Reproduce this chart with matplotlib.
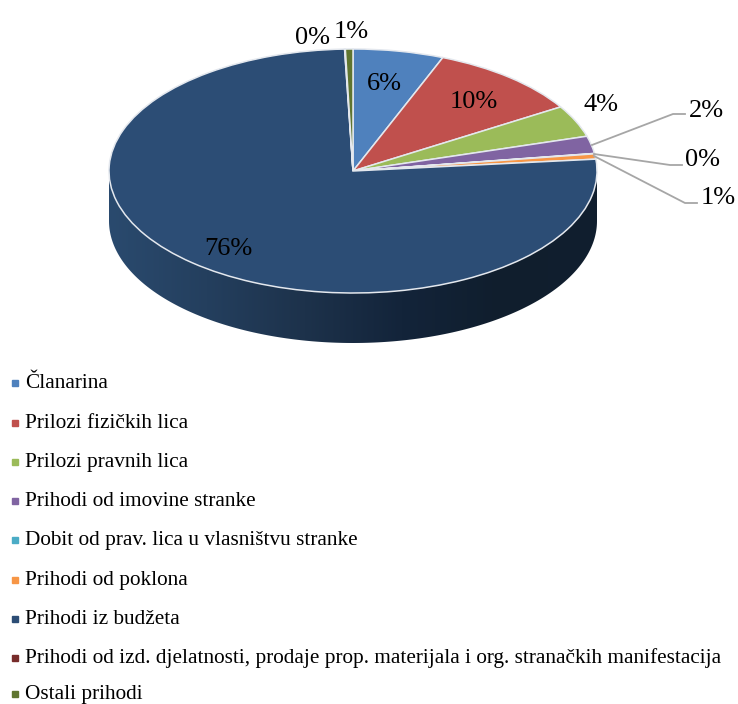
import numpy as np
import matplotlib
matplotlib.use("Agg")
import matplotlib.pyplot as plt
from matplotlib.colors import LinearSegmentedColormap
from matplotlib.patches import Polygon
from matplotlib.transforms import Affine2D

plt.rcParams["font.family"] = ["Liberation Serif", "DejaVu Serif"]

# data
categories = [
    "Članarina",
    "Prilozi fizičkih lica",
    "Prilozi pravnih lica",
    "Prihodi od imovine stranke",
    "Dobit od prav. lica u vlasništvu stranke",
    "Prihodi od poklona",
    "Prihodi iz budžeta",
    "Prihodi od izd. djelatnosti, prodaje prop. materijala i org. stranačkih manifestacija",
    "Ostali prihodi",
]
shares = [6.0, 10.2, 4.2, 2.3, 0.05, 0.7, 76.0, 0.05, 0.5]
pct_labels = ["6%", "10%", "4%", "2%", "0%", "1%", "76%", "0%", "1%"]
colors = ["#4f81bd", "#c0504d", "#9bbb59", "#8064a2", "#4bacc6",
          "#f79646", "#2c4d75", "#772c2a", "#5f7530"]

W, H = 738, 704
CX, CY, RX, RY, DEPTH = 353, 171, 244, 122, 50

fig = plt.figure(figsize=(W / 100, H / 100), dpi=100)
ax = fig.add_axes([0, 0, 1, 1])

# pie in unit radius, squashed by the axis limits
ax.pie(shares, colors=colors, startangle=90, counterclock=False, radius=1,
       wedgeprops={"edgecolor": "#e4e8ee", "linewidth": 1.1, "zorder": 3})
ax.set_aspect("auto")
ax.set_xlim(-CX / RX, (W - CX) / RX)
ax.set_ylim((CY - H) / RY, CY / RY)
ax.axis("off")

# pixel coordinates, origin top left
px = Affine2D().scale(1 / W, -1 / H).translate(0, 1) + fig.transFigure

# side wall of the disc with a horizontal gradient
d = DEPTH / RY
t = np.linspace(np.pi, 2 * np.pi, 200)
outline = np.vstack([
    np.column_stack([np.cos(t), np.sin(t) - d]),
    [[1, 0], [-1, 0]],
])
side_cmap = LinearSegmentedColormap.from_list(
    "side", ["#2a4a6e", "#243f5e", "#1d324b", "#13243a", "#101e2d", "#111f2f"])
img = ax.imshow(np.linspace(0, 1, 256).reshape(1, -1), cmap=side_cmap, aspect="auto",
                extent=(-1, 1, -1 - d, 0), zorder=1)
img.set_clip_path(Polygon(outline, closed=True, transform=ax.transData))
ax.set_xlim(-CX / RX, (W - CX) / RX)
ax.set_ylim((CY - H) / RY, CY / RY)

# leader lines
leaders = [
    ([592, 673, 685], [145, 114, 114]),
    ([594, 670, 682], [154, 165, 165]),
    ([594, 685, 697], [156, 203, 203]),
]
for xs, ys in leaders:
    ax.plot(xs, ys, color="#a6a6a6", lw=1.3, transform=px, zorder=4)

# percent labels, y is the baseline
label_pos = [(384, 90), (474, 108), (601, 111), (706, 117), (702, 166),
             (718, 204), (228, 255), (312, 44), (351, 38)]
for txt, (x, y) in zip(pct_labels, label_pos):
    ax.text(x, y, txt, transform=px, fontsize=19, color="black",
            ha="center", va="baseline", zorder=5)

# legend, last row pulled up a little so the descenders stay on the canvas
legend_y = [388, 428, 467, 506, 545, 585, 624, 663, 699]
for name, col, y in zip(categories, colors, legend_y):
    ax.plot([15], [y - 5.5], marker="s", ms=3.8, color=col, ls="none", transform=px,
            clip_on=False)
    ax.text(25, y, name, transform=px, fontsize=15.35, color="black",
            ha="left", va="baseline")

fig.savefig("out.png", dpi=100)
